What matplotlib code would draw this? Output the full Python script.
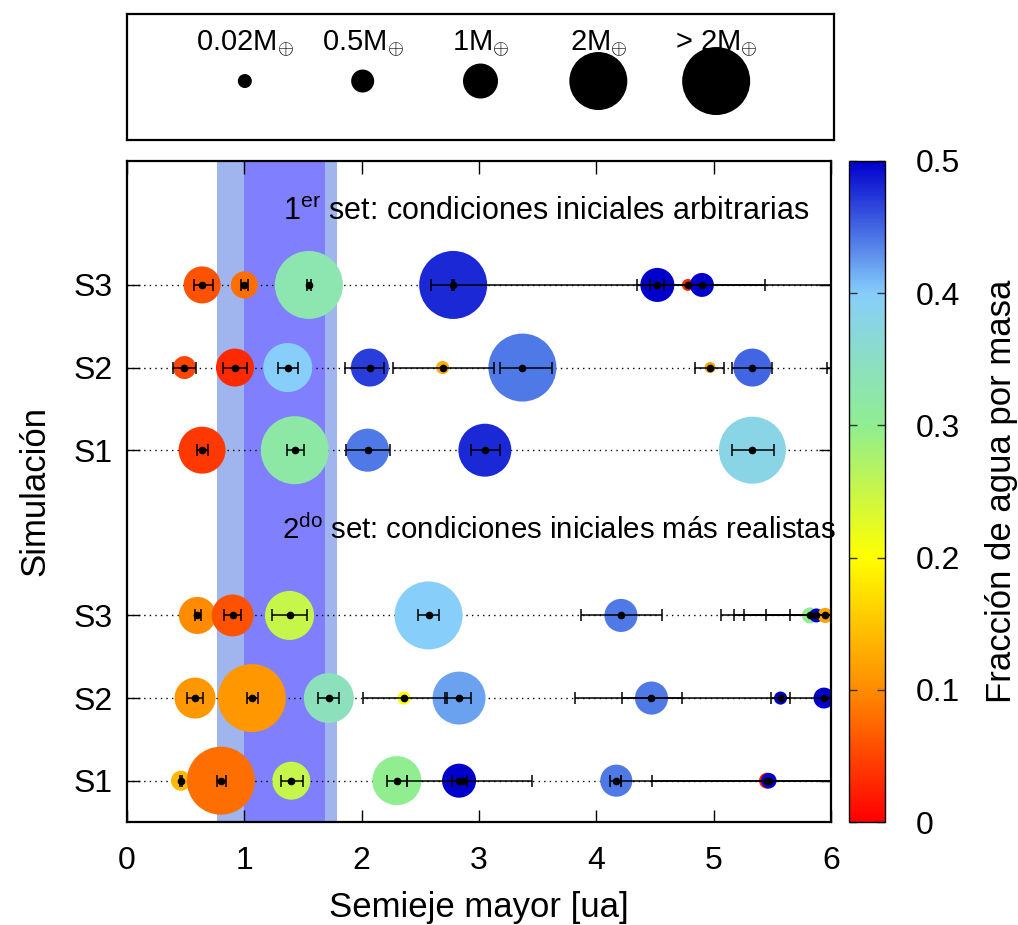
import numpy as np
import matplotlib.pyplot as plt
from matplotlib.colors import LinearSegmentedColormap, Normalize

plt.rcParams['font.family'] = ['Liberation Sans', 'DejaVu Sans']
plt.rcParams['mathtext.fontset'] = 'custom'
plt.rcParams['mathtext.rm'] = 'Liberation Sans'
plt.rcParams['mathtext.it'] = 'Liberation Sans:italic'
plt.rcParams['font.size'] = 23

# --- data: semieje mayor a [ua], masa [M_tierra], fraccion de agua, perihelio q, afelio Q
# 1er set
a_t3 = [0.64, 1.00, 1.55, 2.78, 4.52, 4.78, 4.90]
m_t3 = [1.09, 0.67, 3.0, 3.0, 0.96, 0.013, 0.54]
w_t3 = [0.06, 0.08, 0.33, 0.48, 0.50, 0.03, 0.50]
q_t3 = [0.57, 0.97, 1.53, 2.77, 4.46, 2.59, 4.35]
Q_t3 = [0.73, 1.03, 1.57, 2.79, 4.58, 6.5, 5.44]

a_t2 = [0.49, 0.92, 1.37, 2.07, 2.69, 3.37, 4.97, 5.33, 6.3]
m_t2 = [0.5, 1.13, 1.61, 1.13, 0.017, 3.0, 0.01, 1.13, 0.5]
w_t2 = [0.05, 0.03, 0.40, 0.47, 0.13, 0.44, 0.12, 0.45, 0.5]
q_t2 = [0.39, 0.82, 1.29, 1.86, 2.27, 3.18, 4.84, 5.16, 5.97]
Q_t2 = [0.59, 1.02, 1.46, 2.19, 3.13, 3.62, 5.09, 5.50, 6.6]

a_t1 = [0.64, 1.43, 2.05, 3.05, 5.33]
m_t1 = [1.52, 3.0, 1.35, 1.78, 2.9]
w_t1 = [0.04, 0.32, 0.44, 0.48, 0.38]
q_t1 = [0.60, 1.36, 1.87, 2.93, 5.16]
Q_t1 = [0.69, 1.51, 2.24, 3.18, 5.51]

# 2do set
a_b3 = [0.60, 0.90, 1.385, 2.57, 4.21, 5.82, 5.875, 5.95, 6.2, 6.4]
m_b3 = [1.09, 1.3, 1.61, 3.0, 0.92, 0.13, 0.02, 0.08, 0.5, 0.5]
w_b3 = [0.10, 0.06, 0.25, 0.40, 0.44, 0.30, 0.50, 0.12, 0.5, 0.5]
q_b3 = [0.58, 0.83, 1.24, 2.48, 3.87, 5.06, 5.17, 5.26, 5.45, 5.65]
Q_b3 = [0.63, 0.97, 1.53, 2.66, 4.56, 6.5, 6.5, 6.5, 6.8, 7.0]

a_b2 = [0.58, 1.064, 1.72, 2.36, 2.83, 4.47, 5.57, 5.94]
m_b2 = [1.26, 3.0, 1.65, 0.017, 1.78, 0.92, 0.017, 0.39]
w_b2 = [0.11, 0.11, 0.34, 0.20, 0.42, 0.44, 0.50, 0.50]
q_b2 = [0.51, 1.02, 1.63, 2.01, 2.71, 3.82, 4.22, 5.49]
Q_b2 = [0.65, 1.115, 1.81, 2.73, 2.93, 4.73, 5.65, 6.5]

a_b1 = [0.46, 0.80, 1.40, 2.30, 2.83, 2.86, 4.17, 5.455, 5.47]
m_b1 = [0.34, 3.0, 1.13, 1.61, 0.96, 0.007, 0.88, 0.13, 0.10]
w_b1 = [0.14, 0.08, 0.25, 0.30, 0.50, 0.50, 0.44, 0.02, 0.50]
q_b1 = [0.45, 0.77, 1.31, 2.22, 2.77, 2.39, 4.12, 4.21, 4.475]
Q_b1 = [0.47, 0.84, 1.50, 2.39, 2.90, 3.45, 4.21, 6.5, 6.5]

row_y = [1, 2, 3, 5, 6, 7]
row_labels = ['S1', 'S2', 'S3', 'S1', 'S2', 'S3']
rows = [(a_b1, m_b1, w_b1, q_b1, Q_b1), (a_b2, m_b2, w_b2, q_b2, Q_b2),
        (a_b3, m_b3, w_b3, q_b3, Q_b3), (a_t1, m_t1, w_t1, q_t1, Q_t1),
        (a_t2, m_t2, w_t2, q_t2, Q_t2), (a_t3, m_t3, w_t3, q_t3, Q_t3)]

hz_wide = [0.77, 1.79]
hz_narrow = [1.0, 1.69]

legend_mass = [0.02, 0.5, 1, 2, 3]
legend_labels = [r'0.02M$_{\oplus}$', r'0.5M$_{\oplus}$', r'1M$_{\oplus}$',
                 r'2M$_{\oplus}$', r'> 2M$_{\oplus}$']

# --- estilo
W, H = 1018, 925
cmap = LinearSegmentedColormap.from_list('agua', [
    (0.0, '#FF0000'), (0.2, '#FF8C00'), (0.4, '#FFFF00'),
    (0.6, '#90EE90'), (0.8, '#87CEFA'), (1.0, '#0000CD')])
norm = Normalize(0, 0.5)


def msize(m):
    # diametro en px segun la masa -> area en pt^2
    d = np.interp(m, [0, 0.02, 0.5, 1, 2, 3], [8, 14, 23, 35, 58, 68])
    return (d * 0.72) ** 2


fig = plt.figure(figsize=(W / 100, H / 100), dpi=100)
ax = fig.add_axes([127 / W, 1 - 822 / H, 704 / W, 661 / H])

ax.axvspan(hz_wide[0], hz_wide[1], color='#A0B4EE', lw=0, zorder=0)
ax.axvspan(hz_narrow[0], hz_narrow[1], color='#8080FF', lw=0, zorder=0.1)

for y, (a, m, w, q, Q) in zip(row_y, rows):
    a = np.array(a)
    ax.axhline(y, ls=(0, (1, 3)), color='k', lw=1, zorder=1)
    ax.scatter(a, np.full(len(a), y), s=msize(np.array(m)), c=w, cmap=cmap,
               norm=norm, edgecolors='none', zorder=2)
    ax.errorbar(a, np.full(len(a), y), xerr=[a - np.array(q), np.array(Q) - a],
                fmt='none', ecolor='k', elinewidth=1.1, capsize=4.5,
                capthick=1.1, zorder=3)
    ax.plot(a, np.full(len(a), y), 'o', color='k', ms=4.5, zorder=4)

ax.text(1.33, 7.78, r'1$^{\mathrm{er}}$ set: condiciones iniciales arbitrarias',
        va='baseline', fontsize=22)
ax.text(1.32, 3.93, r'2$^{\mathrm{do}}$ set: condiciones iniciales más realistas',
        va='baseline', fontsize=21.2)

ax.set_xlim(0, 6)
ax.set_ylim(0.5, 8.5)
ax.set_xticks(range(7))
ax.set_yticks(row_y, row_labels)
ax.tick_params(direction='in', top=True, right=True, length=9, width=1)
ax.tick_params(axis='x', pad=17)
ax.tick_params(axis='y', pad=10)
ax.set_xlabel('Semieje mayor [ua]', fontsize=25, labelpad=11)
ax.set_ylabel('Simulación', fontsize=25, labelpad=16)
for s in ax.spines.values():
    s.set_linewidth(1.6)

# barra de color
cax = fig.add_axes([849 / W, 1 - 822 / H, 36 / W, 661 / H])
sm = plt.cm.ScalarMappable(norm=norm, cmap=cmap)
cb = fig.colorbar(sm, cax=cax, ticks=[0, 0.1, 0.2, 0.3, 0.4, 0.5])
cb.set_ticklabels(['0', '0.1', '0.2', '0.3', '0.4', '0.5'])
cax.tick_params(direction='in', left=True, right=True, length=6, width=1,
                color='#333333', pad=22)
cb.outline.set_linewidth(1)
cb.set_label('Fracción de agua por masa', fontsize=25, labelpad=18)

# leyenda de masas
lax = fig.add_axes([127 / W, 1 - 140 / H, 707 / W, 126 / H])
lax.set_xlim(0, 6)
lax.set_ylim(0, 1)
lax.set_xticks([])
lax.set_yticks([])
for s in lax.spines.values():
    s.set_linewidth(1.6)
lx = np.arange(1, len(legend_mass) + 1)
lax.scatter(lx, np.full(len(lx), 0.468), s=msize(np.array(legend_mass)),
            color='k', edgecolors='none')
for x, t in zip(lx, legend_labels):
    lax.text(x, 0.714, t, ha='center', va='baseline', fontsize=21)

fig.savefig('out.png', dpi=100)
